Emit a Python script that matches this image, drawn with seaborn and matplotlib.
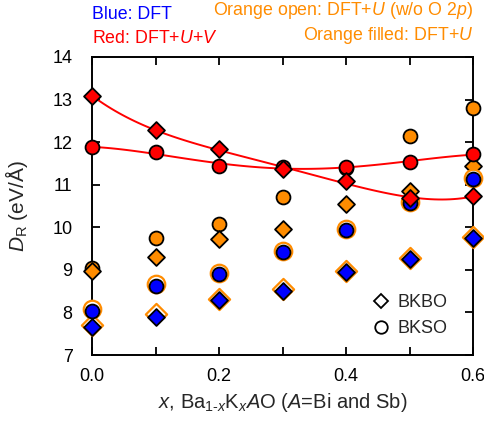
import numpy as np
import pandas as pd
import matplotlib
matplotlib.use('Agg')
import matplotlib.pyplot as plt
import seaborn as sns
from matplotlib.lines import Line2D

### Data ###

x = [0.0, 0.1, 0.2, 0.3, 0.4, 0.5, 0.6]

# DFT (blue)
dft_bkbo = [7.66, 7.90, 8.29, 8.51, 8.96, 9.25, 9.76]
dft_bkso = [8.04, 8.62, 8.90, 9.41, 9.93, 10.58, 11.13]

# DFT+U without O 2p (orange open)
dftu_open_bkbo = [7.70, 7.97, 8.31, 8.54, 8.98, 9.27, 9.78]
dftu_open_bkso = [8.09, 8.66, 8.93, 9.45, 9.95, 10.60, 11.15]

# DFT+U (orange filled)
dftu_bkbo = [8.98, 9.30, 9.72, 9.97, 10.54, 10.86, 11.44]
dftu_bkso = [9.05, 9.74, 10.07, 10.71, 11.40, 12.15, 12.81]

# DFT+U+V (red)
dftuv_bkbo = [13.09, 12.28, 11.83, 11.37, 11.08, 10.68, 10.73]
dftuv_bkso = [11.88, 11.76, 11.44, 11.42, 11.41, 11.54, 11.71]

blue = '#0000FF'
red = '#FF0000'
orange = '#FF8C00'

sns.set_style('ticks')
plt.rcParams['font.family'] = ['Liberation Sans', 'DejaVu Sans']
plt.rcParams['mathtext.fontset'] = 'custom'
plt.rcParams['mathtext.rm'] = 'Liberation Sans'
plt.rcParams['mathtext.it'] = 'Liberation Sans:italic'
plt.rcParams['mathtext.bf'] = 'Liberation Sans:bold'

fig = plt.figure(figsize=(4.85, 4.24), dpi=100)
ax = fig.add_axes([0.1897, 0.1627, 0.7856, 0.7029])

ms_c = 10.0   # circle size (pt)
ms_d = 8.6    # diamond size (pt)

def pts(yv, marker, ms, face, edge, ew, z):
    df = pd.DataFrame({'x': x, 'y': yv})
    sns.scatterplot(data=df, x='x', y='y', marker=marker, s=ms**2,
                    color=face, edgecolor=edge, linewidth=ew, ax=ax,
                    zorder=z, clip_on=False, legend=False)

# orange filled (bottom)
pts(dftu_bkso, 'o', ms_c, orange, 'black', 1.3, 3)
pts(dftu_bkbo, 'D', ms_d, orange, 'black', 1.3, 3.1)

# orange open rings (behind blue)
pts(dftu_open_bkso, 'o', ms_c + 2.6, 'white', orange, 1.6, 4)
pts(dftu_open_bkbo, 'D', ms_d + 2.2, 'white', orange, 1.6, 4)

# blue
pts(dft_bkso, 'o', ms_c, blue, 'black', 1.3, 5)
pts(dft_bkbo, 'D', ms_d, blue, 'black', 1.3, 5)

# red lines (smooth fit) + markers
for yv in (dftuv_bkso, dftuv_bkbo):
    df = pd.DataFrame({'x': x, 'y': yv})
    sns.regplot(data=df, x='x', y='y', order=4, ci=None, scatter=False,
                line_kws={'color': red, 'lw': 1.4, 'zorder': 6}, ax=ax, truncate=True)
pts(dftuv_bkso, 'o', ms_c, red, 'black', 1.3, 7)
pts(dftuv_bkbo, 'D', ms_d, red, 'black', 1.3, 8)

ax.set_xlim(0, 0.6)
ax.set_ylim(7, 14)
ax.set_xticks([0, 0.1, 0.2, 0.3, 0.4, 0.5, 0.6])
ax.set_xticklabels(['0.0', '', '0.2', '', '0.4', '', '0.6'])
ax.set_yticks(range(7, 15))
ax.tick_params(direction='in', top=True, right=True, length=6, width=1.3,
               labelsize=13, colors='black')
ax.tick_params(axis='x', pad=9)
ax.tick_params(axis='y', pad=14)
for s in ax.spines.values():
    s.set_linewidth(1.4)
    s.set_color('black')

ax.set_xlabel(r'$x$, Ba$_{\mathit{1}\text{-}\mathit{x}}$K$_{x}$$A$O ($A$=Bi and Sb)',
              fontsize=14.5, labelpad=5)
ax.set_ylabel(r'$D_{\mathrm{R}}$ (eV/Å)', fontsize=15)
ax.yaxis.set_label_coords(-0.163, 0.5)

# legend
handles = [Line2D([], [], marker='D', ls='none', ms=7.5, mfc='white', mec='black', mew=1.3),
           Line2D([], [], marker='o', ls='none', ms=9, mfc='white', mec='black', mew=1.3)]
ax.legend(handles, ['BKBO', 'BKSO'], loc='lower right', frameon=False,
          fontsize=13, bbox_to_anchor=(0.975, 0.005), handletextpad=0.3,
          labelspacing=0.5, handlelength=1.2)

# header texts
fig.text(0.19, 0.965, 'Blue: DFT', color=blue, fontsize=12.8, va='center')
fig.text(0.19, 0.910, r'Red: DFT+$U$+$V$', color=red, fontsize=12.8, va='center')
fig.text(0.975, 0.975, r'Orange open: DFT+$U$ (w/o O 2$p$)', color=orange,
         fontsize=12.8, va='center', ha='right')
fig.text(0.975, 0.917, r'Orange filled: DFT+$U$', color=orange,
         fontsize=12.8, va='center', ha='right')

fig.savefig('out.png', dpi=100)
